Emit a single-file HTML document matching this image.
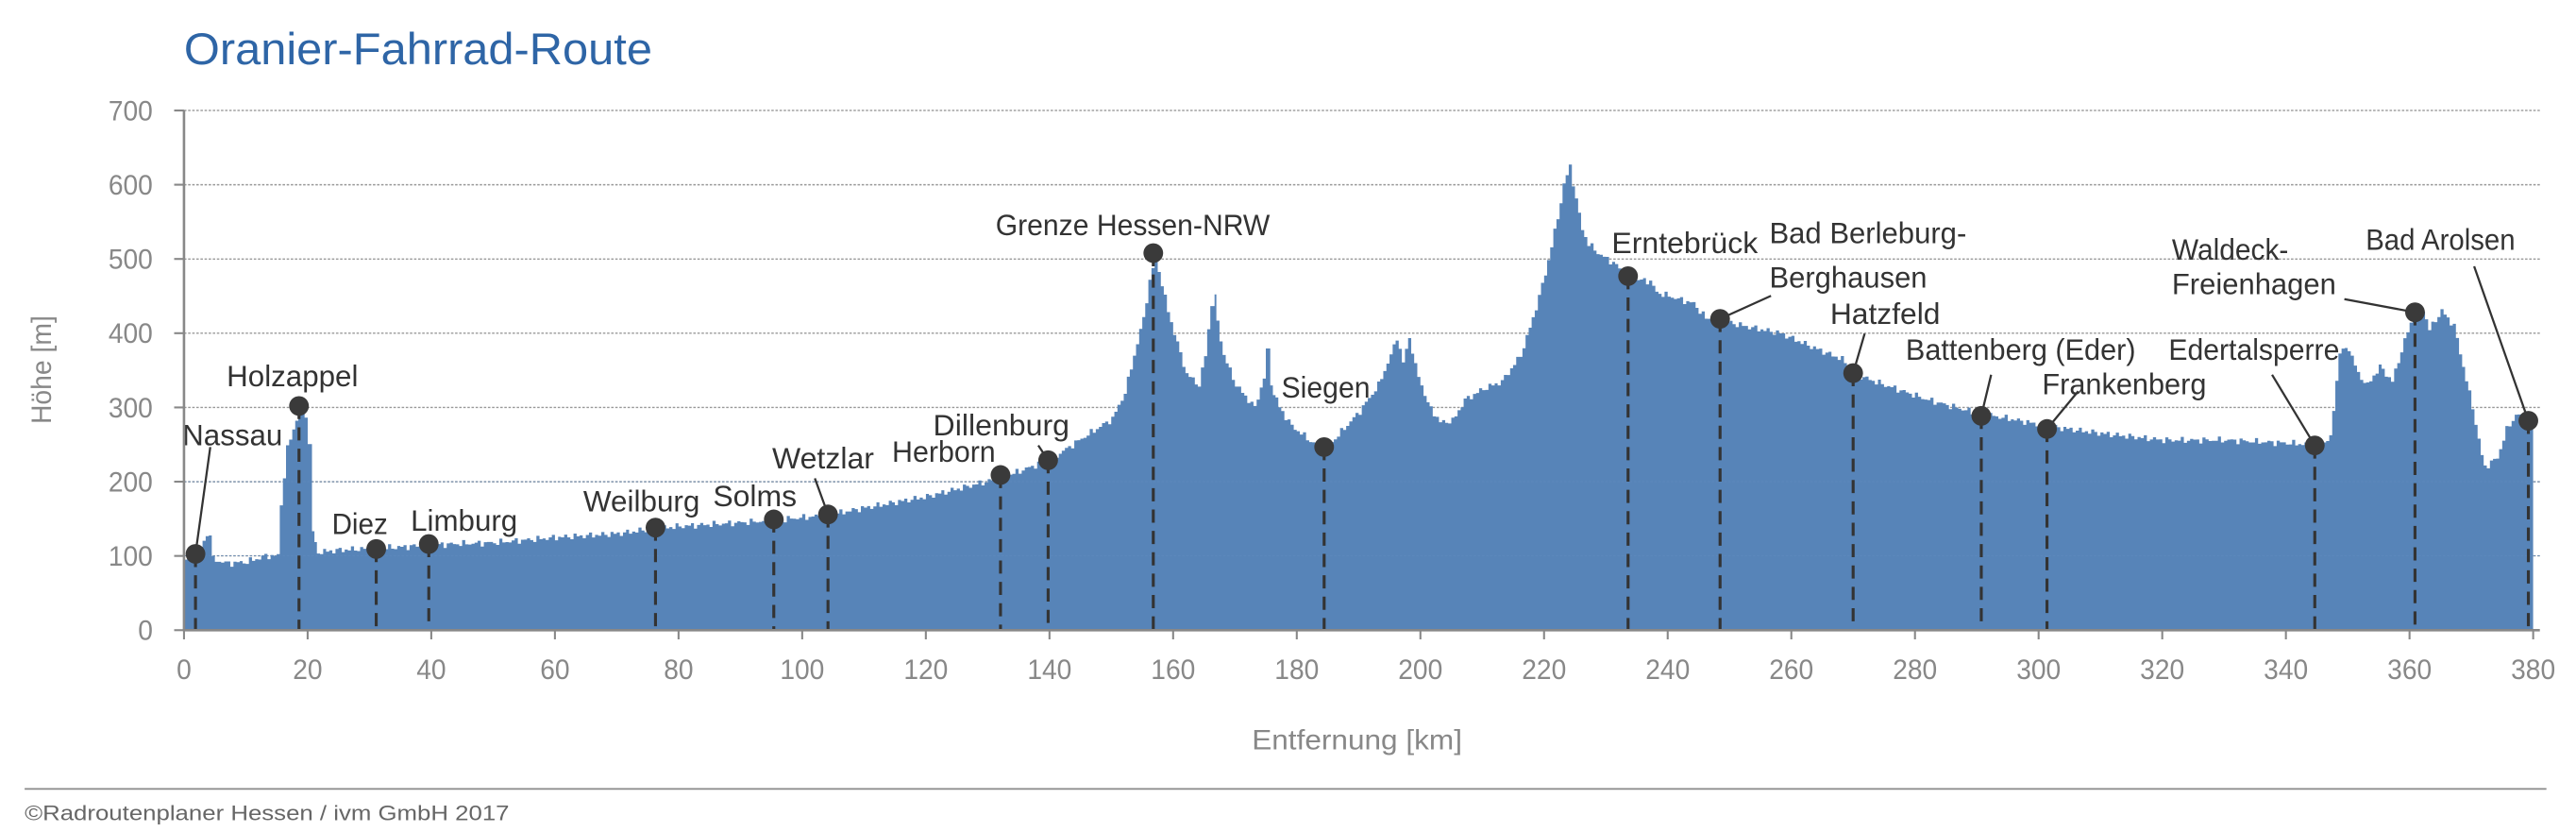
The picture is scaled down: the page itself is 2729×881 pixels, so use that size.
<!DOCTYPE html>
<html><head><meta charset="utf-8"><style>
html,body{margin:0;padding:0;background:#fff;}
svg{display:block;}
text{font-family:"Liberation Sans",sans-serif;}
</style></head><body>
<svg width="2729" height="881" viewBox="0 0 1568 506.2" preserveAspectRatio="none" xmlns="http://www.w3.org/2000/svg">
<text x="112" y="39" font-size="27" fill="#2e65a6" textLength="285" lengthAdjust="spacingAndGlyphs">Oranier-Fahrrad-Route</text>
<g stroke="#999" stroke-width="0.8" stroke-dasharray="1.5,1">
<line x1="112" x2="1546" y1="67.2" y2="67.2"/><line x1="112" x2="1546" y1="112.4" y2="112.4"/><line x1="112" x2="1546" y1="157.6" y2="157.6"/><line x1="112" x2="1546" y1="202.7" y2="202.7"/><line x1="112" x2="1546" y1="247.9" y2="247.9"/><line x1="112" x2="1546" y1="293.1" y2="293.1"/><line x1="112" x2="1546" y1="338.2" y2="338.2"/>
</g>
<polygon id="prof" fill="#5784b8" points=""/>
<g stroke="#5f8bbd" stroke-width="0.5" stroke-dasharray="1.5,1" opacity="0.8">
<line x1="112" x2="1546" y1="338.2" y2="338.2"/><line x1="112" x2="1546" y1="293.1" y2="293.1"/></g>
<g id="marks"></g>
<g stroke="#888" stroke-width="1.5" fill="none">
<line x1="112" y1="67" x2="112" y2="384"/><line x1="112" y1="383.4" x2="1546" y2="383.4"/>
</g>
<g id="ticks" stroke="#888" stroke-width="1.2"></g>
<g id="tl" font-size="17" fill="#888"></g>
<text x="826" y="456" font-size="17" fill="#888" text-anchor="middle" textLength="128" lengthAdjust="spacingAndGlyphs">Entfernung [km]</text>
<text transform="translate(31,225) rotate(-90)" font-size="17" fill="#888" text-anchor="middle" textLength="66" lengthAdjust="spacingAndGlyphs">Höhe [m]</text>
<line x1="15" y1="480" x2="1550" y2="480" stroke="#888" stroke-width="1"/>
<text x="15" y="499" font-size="13" fill="#666" textLength="295" lengthAdjust="spacingAndGlyphs">©Radroutenplaner Hessen / ivm GmbH 2017</text>
</svg>
<script>
const X=k=>112+k*3.763, Y=e=>383.4-e*0.4517;
const d=[[0,95],[1,98],[2,100],[3,120],[3.5,128],[4,130],[4.5,95],[7,90],[10,92],[13,100],[15,100],[15.5,170],[16.5,245],[17.5,270],[18.5,300],[19.5,290],[20,250],[20.7,130],[21.5,105],[25,108],[30,110],[35,112],[40,115],[50,118],[60,125],[70,130],[76,137],[80,140],[90,145],[95,148],[104,155],[110,165],[120,180],[132,205],[140,230],[145,258],[150,285],[152,320],[153.5,370],[155,420],[156,470],[157,505],[158,465],[159,430],[160,400],[162,345],[164,330],[165,370],[166,440],[166.7,452],[167,415],[168,370],[170,330],[173,300],[174.5,340],[175,375],[175.7,330],[177,300],[179,275],[182,255],[184,242],[186,258],[190,295],[193,330],[195,370],[196,395],[197,360],[198,395],[199,355],[201,305],[203,280],[205,282],[207,310],[210,325],[213,335],[216,370],[218,420],[220,480],[222,555],[223,600],[224,625],[225,580],[226,540],[227,520],[229,505],[231,495],[233,480],[235,472],[237,470],[238,455],[240,450],[242,445],[244,440],[246,420],[248,418],[252,410],[258,400],[263,382],[268,365],[270,345],[275,330],[282,310],[290,292],[295,285],[301,275],[310,265],[320,256],[330,256],[340,252],[344,250],[347,258],[348.5,375],[350,380],[351.5,345],[353,330],[355,355],[357,335],[359,390],[360.5,425],[362,432],[363,405],[365,430],[367,410],[368.5,355],[370,300],[371.5,235],[372,220],[374,232],[375.5,270],[377,290],[378.5,288],[380,280]];
let pts=[[X(0),Y(0)]];
for(let i=0;i<d.length-1;i++){const[a,b]=d[i],[c,e]=d[i+1];const n=Math.max(1,Math.round((c-a)*2));for(let j=0;j<n;j++){const k=a+(c-a)*j/n;let v=b+(e-b)*j/n;v+= (Math.sin(k*7.3)+Math.sin(k*3.1))*2.5;pts.push([X(k),Y(v)]);pts.push([X(k+(c-a)/n),Y(v)]);}}
pts.push([X(380),Y(280)],[X(380),Y(0)]);
document.getElementById('prof').setAttribute('points',pts.map(p=>p[0].toFixed(1)+','+p[1].toFixed(1)).join(' '));
const M=[
["Nassau",119,337,[[111,271,61]],[128,272]],
["Holzappel",182,247,[[138,235,80]],null],
["Diez",229,334,[[202,325,34]],null],
["Limburg",261,331,[[250,323,65]],null],
["Weilburg",399,321,[[355,311,71]],null],
["Solms",471,316,[[434,308,51]],null],
["Wetzlar",504,313,[[470,285,62]],[496,291]],
["Herborn",609,289,[[543,281,63]],null],
["Dillenburg",638,280,[[568,265,83]],[632,271]],
["Grenze Hessen-NRW",702,154,[[606,143,167]],null],
["Siegen",806,272,[[780,242,54]],null],
["Erntebrück",991,168,[[981,154,89]],null],
["",1047,194,[[1077,148,120,"Bad Berleburg-"],[1077,175,96,"Berghausen"]],[1078,180]],
["Hatzfeld",1128,227,[[1114,197,67]],[1135,203]],
["Battenberg (Eder)",1206,253,[[1160,219,140]],[1212,228]],
["Frankenberg",1246,261,[[1243,240,100]],[1265,238]],
["Edertalsperre",1409,271,[[1320,219,104]],[1383,228]],
["",1470,190,[[1322,158,71,"Waldeck-"],[1322,179,100,"Freienhagen"]],[1427,182]],
["Bad Arolsen",1539,256,[[1440,152,91]],[1506,162]]];
let s='';
for(const[n,x,y,ls,ld]of M){
s+=`<line x1="${x}" y1="${y}" x2="${x}" y2="383" stroke="#333" stroke-width="1.8" stroke-dasharray="8,5"/>`;
if(ld)s+=`<line x1="${ld[0]}" y1="${ld[1]}" x2="${x}" y2="${y}" stroke="#333" stroke-width="1.3"/>`;
s+=`<circle cx="${x}" cy="${y}" r="6" fill="#3a3a3a"/>`;
for(const l of ls)s+=`<text x="${l[0]}" y="${l[1]}" font-size="18" fill="#333" textLength="${l[2]}" lengthAdjust="spacingAndGlyphs">${l[3]||n}</text>`;}
document.getElementById('marks').innerHTML=s;
let t='',tl='';
for(let k=0;k<=380;k+=20){const x=X(k);t+=`<line x1="${x}" x2="${x}" y1="383" y2="389"/>`;const w=k<10?9:k<100?18:27;tl+=`<text x="${x}" y="413" text-anchor="middle" textLength="${w}" lengthAdjust="spacingAndGlyphs">${k}</text>`;}
for(let e=0;e<=700;e+=100){const y=Y(e);t+=`<line x1="106" x2="112" y1="${y}" y2="${y}"/>`;const w=e==0?9:27;tl+=`<text x="93" y="${y+6}" text-anchor="end" textLength="${w}" lengthAdjust="spacingAndGlyphs">${e}</text>`;}
document.getElementById('ticks').innerHTML=t;document.getElementById('tl').innerHTML=tl;
</script>
</body></html>
